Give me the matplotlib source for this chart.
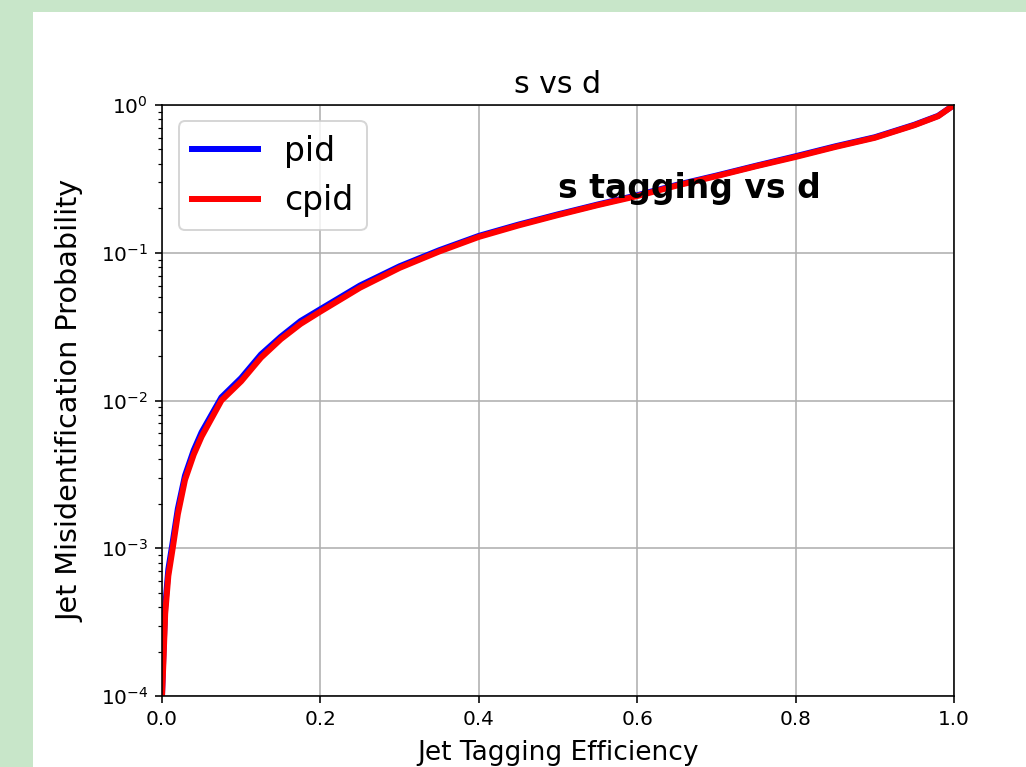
import matplotlib.pyplot as plt
from matplotlib.patches import Rectangle
import numpy as np

# ROC curve values (efficiency, mistag probability)
eff = [0.0, 0.0017, 0.004, 0.008, 0.0135, 0.02, 0.029, 0.04, 0.05, 0.075, 0.1,
       0.125, 0.15, 0.175, 0.2, 0.25, 0.3, 0.35, 0.4, 0.45, 0.5, 0.55, 0.6,
       0.65, 0.7, 0.75, 0.8, 0.85, 0.9, 0.95, 0.98, 1.0]
mistag_cpid = [1.0e-4, 1.66e-4, 3.6e-4, 6.5e-4, 1.0e-3, 1.7e-3, 2.9e-3, 4.3e-3, 5.7e-3,
               1.0e-2, 1.35e-2, 1.95e-2, 2.6e-2, 3.3e-2, 4.0e-2, 5.8e-2, 7.9e-2,
               1.02e-1, 1.28e-1, 1.53e-1, 1.8e-1, 2.1e-1, 2.42e-1, 2.85e-1, 3.3e-1,
               3.85e-1, 4.45e-1, 5.2e-1, 6.0e-1, 7.3e-1, 8.4e-1, 1.0]
mistag_pid = [1.0e-4, 1.9e-4, 4.0e-4, 7.2e-4, 1.1e-3, 1.85e-3, 3.1e-3, 4.6e-3, 6.1e-3,
              1.05e-2, 1.42e-2, 2.05e-2, 2.7e-2, 3.45e-2, 4.15e-2, 6.0e-2, 8.1e-2,
              1.04e-1, 1.3e-1, 1.55e-1, 1.82e-1, 2.12e-1, 2.45e-1, 2.88e-1, 3.33e-1,
              3.88e-1, 4.5e-1, 5.25e-1, 6.05e-1, 7.35e-1, 8.45e-1, 1.0]

fig = plt.figure(figsize=(1026 / 144, 767 / 144), dpi=144, facecolor='#c8e6c9')
# white figure area of the screenshot
fig.patches.append(Rectangle((33 / 1026, 0), 1, 1 - 12 / 767, transform=fig.transFigure,
                             facecolor='white', edgecolor='none', zorder=-10))

ax = fig.add_axes([162 / 1026, 1 - 696 / 767, (954 - 162) / 1026, (696 - 105) / 767])
ax.plot(eff, mistag_pid, color='blue', lw=3, label='pid')
ax.plot(eff, mistag_cpid, color='red', lw=3, label='cpid')
ax.set_yscale('log')
ax.set_xlim(0, 1)
ax.set_ylim(1e-4, 1)
ax.grid(True)
ax.set_xlabel('Jet Tagging Efficiency', fontsize=13.2, labelpad=5.5)
ax.set_ylabel('Jet Misidentification Probability', fontsize=14.3, labelpad=8)
ax.set_title('s vs d', fontsize=15)
ax.text(0.5, 0.235, 's tagging vs d', fontsize=16.5, fontweight='bold')
ax.legend(loc='upper left', fontsize=16.5)

fig.savefig('out.png', dpi=144, facecolor=fig.get_facecolor())
